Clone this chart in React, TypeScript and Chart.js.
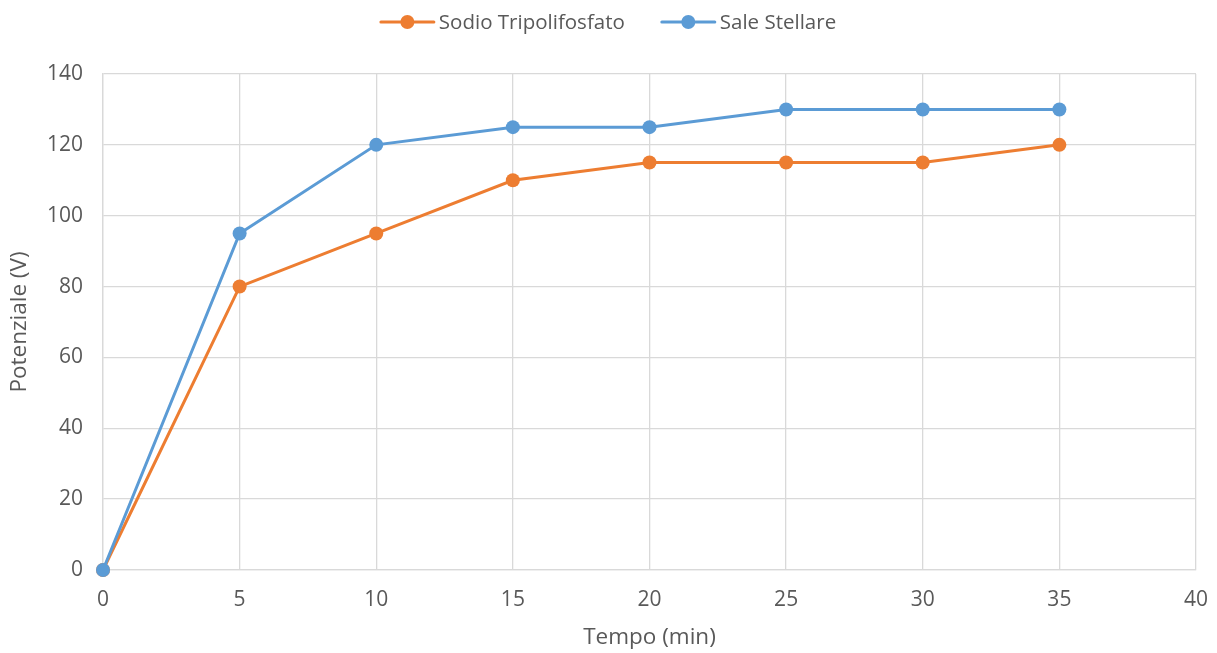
import React, { useEffect, useRef } from "react";
import { Chart, registerables } from "chart.js";

Chart.register(...registerables);

const times = [0, 5, 10, 15, 20, 25, 30, 35];
const sodioValues = [0, 80, 95, 110, 115, 115, 115, 120];
const saleValues = [0, 95, 120, 125, 125, 130, 130, 130];
const seriesNames = ["Sodio Tripolifosfato", "Sale Stellare"];
const seriesColors = ["#ED7D31", "#5B9BD5"];
const xTitle = "Tempo (min)";
const yTitle = "Potenziale (V)";

const FONT = "'Open Sans', 'DejaVu Sans', sans-serif";
const TEXT = "#595959";
const GRID = "#d9d9d9";

const legendPlugin = {
  id: "customLegend",
  afterDraw(chart: any) {
    const ctx = chart.ctx as CanvasRenderingContext2D;
    ctx.save();
    ctx.font = `20.5px ${FONT}`;
    const lineW = 53;
    const gapText = 5;
    const gapItem = 37;
    const widths = seriesNames.map((n) => lineW + gapText + ctx.measureText(n).width);
    const total = widths.reduce((a, b) => a + b, 0) + gapItem * (seriesNames.length - 1);
    let x = chart.width / 2 - total / 2;
    const y = 22;
    seriesNames.forEach((name, i) => {
      ctx.strokeStyle = seriesColors[i];
      ctx.lineWidth = 3;
      ctx.lineCap = "round";
      ctx.beginPath();
      ctx.moveTo(x, y);
      ctx.lineTo(x + lineW, y);
      ctx.stroke();
      ctx.fillStyle = seriesColors[i];
      ctx.beginPath();
      ctx.arc(x + lineW / 2, y, 7, 0, Math.PI * 2);
      ctx.fill();
      ctx.fillStyle = TEXT;
      ctx.textBaseline = "middle";
      ctx.textAlign = "left";
      ctx.fillText(name, x + lineW + gapText, y + 1);
      x += widths[i] + gapItem;
    });
    ctx.restore();
  },
};

export default function App() {
  const ref = useRef<HTMLCanvasElement | null>(null);
  useEffect(() => {
    if (!ref.current) return;
    const mk = (vals: number[]) => times.map((t, i) => ({ x: t, y: vals[i] }));
    const ds = (i: number, vals: number[], order: number) => ({
      label: seriesNames[i],
      data: mk(vals),
      borderColor: seriesColors[i],
      backgroundColor: seriesColors[i],
      borderWidth: 3,
      pointRadius: 7,
      pointBorderWidth: 0,
      pointBackgroundColor: seriesColors[i],
      clip: false as any,
      order,
    });
    const chart = new Chart(ref.current, {
      type: "line",
      data: {
        datasets: [ds(0, sodioValues, 1), ds(1, saleValues, 0)],
      },
      options: {
        animation: false,
        responsive: true,
        maintainAspectRatio: false,
        layout: { padding: { top: 74, right: 21, left: 0, bottom: 0 } },
        plugins: { legend: { display: false }, tooltip: { enabled: false } },
        scales: {
          x: {
            type: "linear",
            min: 0,
            max: 40,
            ticks: { stepSize: 5, color: TEXT, font: { family: FONT, size: 21 }, padding: 17 },
            grid: { color: GRID, lineWidth: 1.3, drawTicks: false },
            border: { color: GRID, width: 1.3 },
            title: {
              display: true,
              text: xTitle,
              color: TEXT,
              font: { family: FONT, size: 22.5 },
              padding: { top: 4, bottom: 2 },
            },
            afterFit(scale: any) {
              scale.height = 83;
              scale.paddingRight = 0;
              scale.paddingLeft = 0;
            },
          },
          y: {
            min: 0,
            max: 140,
            ticks: { stepSize: 20, color: TEXT, font: { family: FONT, size: 21 }, padding: 20 },
            grid: { color: GRID, lineWidth: 1.3, drawTicks: false },
            border: { color: GRID, width: 1.3 },
            title: {
              display: true,
              text: yTitle,
              color: TEXT,
              font: { family: FONT, size: 22.5 },
              padding: { top: 6, bottom: 4 },
            },
            afterFit(scale: any) {
              scale.width = 103;
              scale.paddingTop = 0;
              scale.paddingBottom = 0;
            },
          },
        },
      },
      plugins: [legendPlugin],
    });
    return () => chart.destroy();
  }, []);
  return (
    <div style={{ position: "fixed", left: 0, top: 0, width: 1217, height: 653, background: "#fff" }}>
      <canvas ref={ref} />
    </div>
  );
}
